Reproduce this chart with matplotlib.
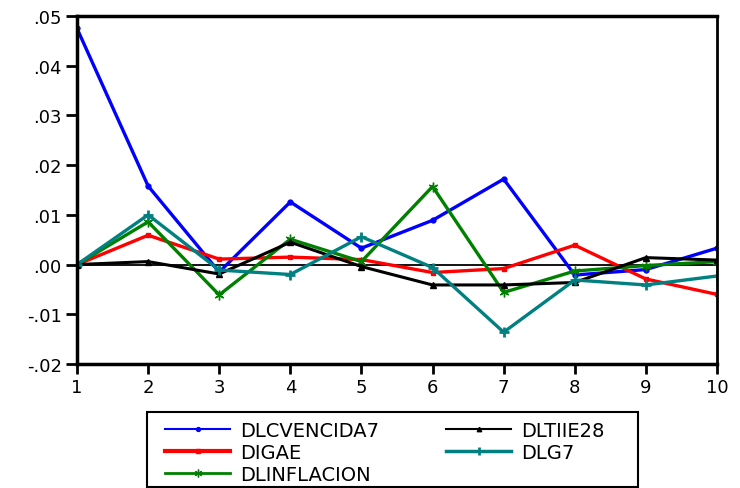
import matplotlib
matplotlib.use("Agg")
import matplotlib.pyplot as plt
from matplotlib.patches import Rectangle

plt.rcParams['font.family'] = ['DejaVu Sans']

# Impulse response values
periods = [1, 2, 3, 4, 5, 6, 7, 8, 9, 10]
dlcvencida7 = [0.0475, 0.0158, -0.0015, 0.0126, 0.0033, 0.0089, 0.0172, -0.0021, -0.0010, 0.0033]
digae = [0.0, 0.0059, 0.0011, 0.0015, 0.0010, -0.0016, -0.0008, 0.0039, -0.0029, -0.0060]
dltiie28 = [0.0, 0.0006, -0.0019, 0.0045, -0.0004, -0.0041, -0.0041, -0.0036, 0.0014, 0.0009]
dlg7 = [0.0, 0.0100, -0.0011, -0.0020, 0.0056, -0.0006, -0.0136, -0.0031, -0.0041, -0.0023]
dlinflacion = [0.0, 0.0086, -0.0061, 0.0051, 0.0006, 0.0157, -0.0056, -0.0013, -0.0002, 0.0006]

yticks = [-0.02, -0.01, 0.0, 0.01, 0.02, 0.03, 0.04, 0.05]
ytick_labels = ['-.02', '-.01', '.00', '.01', '.02', '.03', '.04', '.05']

W, H = 740, 489
fig = plt.figure(figsize=(W / 100, H / 100), dpi=100)
ax = fig.add_axes([77 / W, 1 - 365 / H, (717 - 77) / W, (365 - 17) / H])

ax.axhline(0, color='black', lw=1.3, zorder=1)

l1, = ax.plot(periods, dlcvencida7, color='#0000ff', lw=2.4, marker='o', ms=3.5, label='DLCVENCIDA7')
l2, = ax.plot(periods, digae, color='#ff0000', lw=2.4, marker='s', ms=3, label='DIGAE')
l3, = ax.plot(periods, dlinflacion, color='#008000', lw=2.4, marker=(6, 2, 0), ms=7, label='DLINFLACION')
l4, = ax.plot(periods, dltiie28, color='black', lw=2.2, marker='^', ms=4, label='DLTIIE28')
l5, = ax.plot(periods, dlg7, color='#008080', lw=2.4, marker='+', ms=7, mew=2, label='DLG7')

ax.set_xlim(1, 10)
ax.set_ylim(-0.02, 0.05)
ax.set_xticks(periods)
ax.set_yticks(yticks)
ax.set_yticklabels(ytick_labels)
ax.tick_params(axis='y', direction='out', length=8, width=2, labelsize=13, pad=3)
ax.tick_params(axis='x', direction='out', length=7, width=2, labelsize=13, pad=3)

for side in ['left', 'bottom', 'top']:
    ax.spines[side].set_linewidth(2.5)
ax.spines['right'].set_linewidth(2)

# legend box drawn separately so the padding can match the reference
fig.patches.append(Rectangle((147 / W, 1 - 488 / H), (638 - 147) / W, (488 - 413) / H,
                             transform=fig.transFigure, fill=False,
                             edgecolor='black', lw=1.5))

leg = fig.legend(handles=[l1, l2, l3, l4, l5], ncol=2, loc='upper left',
                 bbox_to_anchor=(165 / W, 1 - 422 / H),
                 fontsize=14, frameon=False,
                 handlelength=3.35, borderpad=0, labelspacing=0.15,
                 columnspacing=3.45, handletextpad=0.5, borderaxespad=0)
for h, lw in zip(leg.legend_handles, [1.5, 3.0, 2.0, 1.5, 2.5]):
    h.set_linewidth(lw)
    h.set_markersize(h.get_markersize() * 0.8)

fig.savefig('out.png', dpi=100)
